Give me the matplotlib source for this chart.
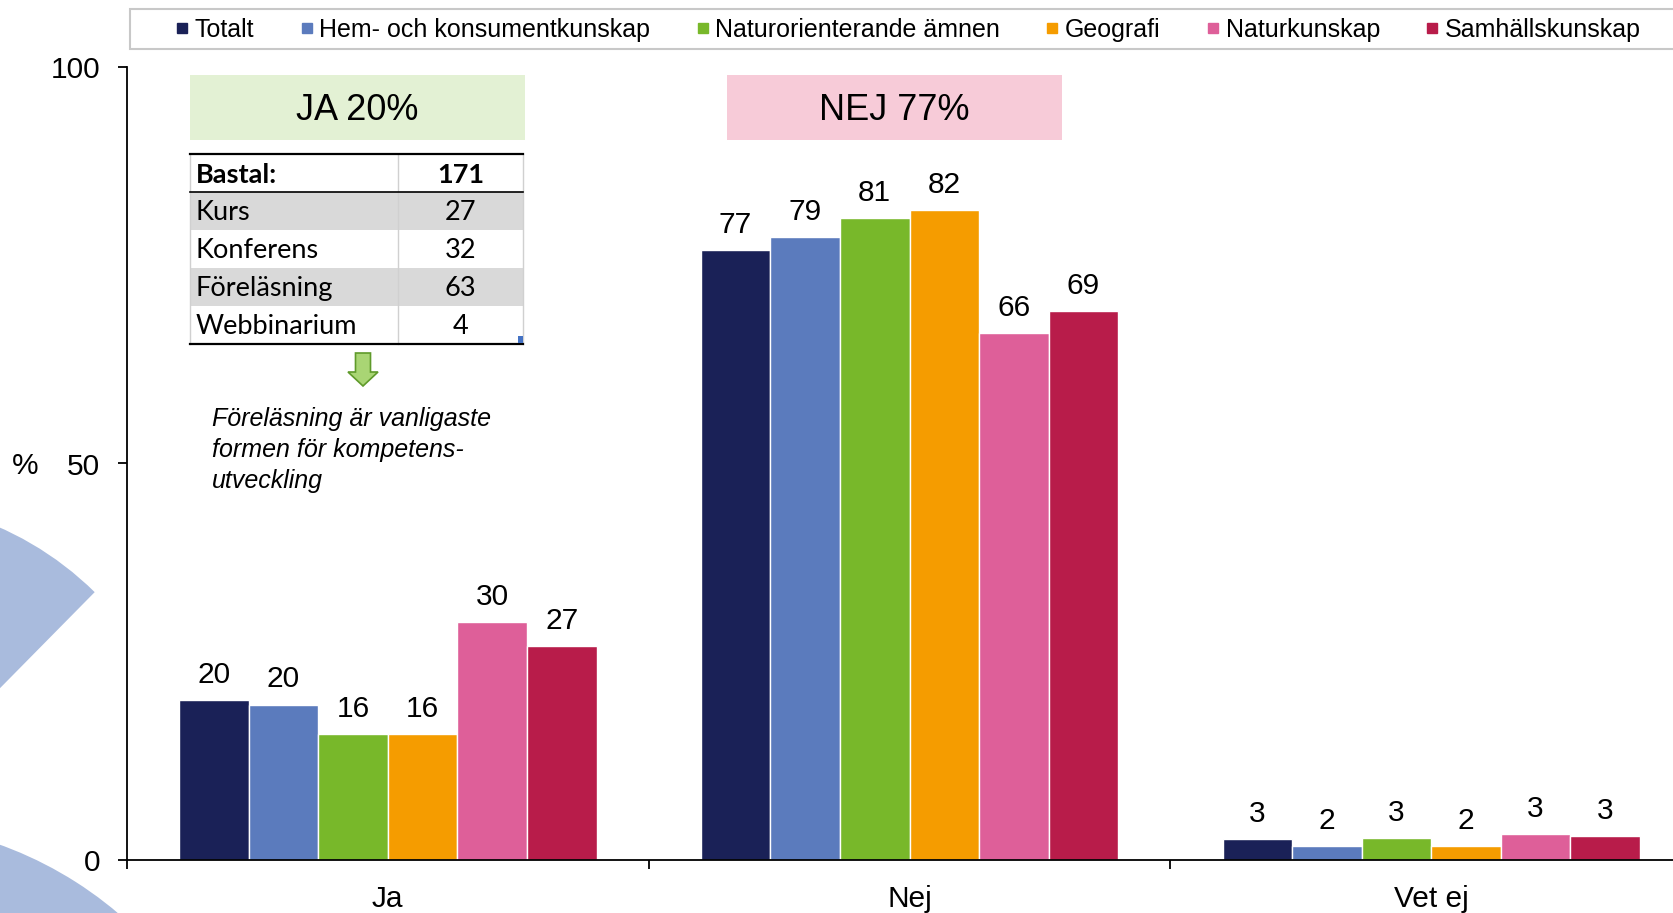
import matplotlib
matplotlib.use('Agg')
import matplotlib.pyplot as plt
from matplotlib.patches import Rectangle, Wedge, Polygon
from matplotlib.lines import Line2D
from matplotlib.transforms import IdentityTransform

plt.rcParams['font.family'] = ['Liberation Sans', 'DejaVu Sans']

# Data
categories = ['Ja', 'Nej', 'Vet ej']
series = ['Totalt', 'Hem- och konsumentkunskap', 'Naturorienterande ämnen',
          'Geografi', 'Naturkunskap', 'Samhällskunskap']
colors = ['#1a2157', '#5b7bbd', '#78b82a', '#f59c00', '#de5f99', '#b81c4a']
ja_values = [20.2, 19.6, 15.9, 15.9, 30.0, 27.0]
nej_values = [76.9, 78.6, 81.0, 82.0, 66.4, 69.2]
vetej_values = [2.6, 1.8, 2.8, 1.8, 3.3, 3.0]

ja_share = 20
nej_share = 77
bastal = 171
table_rows = ['Kurs', 'Konferens', 'Föreläsning', 'Webbinarium']
table_counts = [27, 32, 63, 4]
note = 'Föreläsning är vanligaste\nformen för kompetens-\nutveckling'

W, H = 1673, 913
fig = plt.figure(figsize=(W / 100, H / 100), dpi=100)


def fx(x):
    return x / W


def fy(y):
    return 1 - y / H


# bakgrundsformer (logo)
px = IdentityTransform()
shape_col = '#a9bbdd'
fig.add_artist(Wedge((-130, H - 820), 320, 45.4, 160, width=200,
                     facecolor=shape_col, edgecolor='none', transform=px, zorder=0))
fig.add_artist(Wedge((-130, H - 1205), 383, 15, 100, width=160,
                     facecolor=shape_col, edgecolor='none', transform=px, zorder=0))

ax = fig.add_axes([127 / W, (H - 860) / H, 1565 / W, (860 - 67) / H])
ax.set_facecolor('none')
ax.set_zorder(1)

n = len(series)
w = 0.8 / n
groups = [ja_values, nej_values, vetej_values]
for j in range(n):
    vals = [g[j] for g in groups]
    xs = [i + (j - (n - 1) / 2) * w for i in range(len(categories))]
    ax.bar(xs, vals, w, color=colors[j], edgecolor='white', linewidth=1, zorder=2)
    for x, v in zip(xs, vals):
        ax.annotate(f'{v:.0f}', (x, v), xytext=(0, 8), textcoords='offset points',
                    ha='center', va='bottom', fontsize=21.5)

ax.set_xlim(-0.5, 2.5)
ax.set_ylim(0, 100)
ax.set_yticks([0, 50, 100])
ax.tick_params(axis='y', labelsize=21.5, length=6.5, width=1.3, pad=13)
ax.set_xticks([-0.5, 0.5, 1.5, 2.5])
ax.set_xticklabels([])
ax.set_xticks(range(len(categories)), minor=True)
ax.set_xticklabels(categories, minor=True)
ax.tick_params(axis='x', which='major', length=6.5, width=1.3)
ax.tick_params(axis='x', which='minor', length=0, labelsize=21.5, pad=18)
for s in ['top', 'right']:
    ax.spines[s].set_visible(False)
for s in ['left', 'bottom']:
    ax.spines[s].set_linewidth(1.3)

fig.text(fx(25), fy(466), '%', ha='center', va='center', fontsize=21.5)

# legend
fig.add_artist(Rectangle((fx(130), fy(49)), (1700 - 130) / W, 40 / H,
                         facecolor='white', edgecolor='#c8c8c8', linewidth=1.5,
                         transform=fig.transFigure, zorder=1))
handles = [Line2D([], [], marker='s', color=c, linestyle='none', markersize=7.5)
           for c in colors]
leg = fig.legend(handles, series, loc='center left', ncol=n, frameon=False,
                 bbox_to_anchor=(fx(177), fy(30)), bbox_transform=fig.transFigure,
                 fontsize=18, handlelength=0.4, handletextpad=0.3,
                 columnspacing=1.9, borderpad=0, borderaxespad=0)
leg.set_zorder(3)

# JA / NEJ rutor
fig.add_artist(Rectangle((fx(190), fy(140)), 335 / W, 65 / H, facecolor='#e3f1d4',
                         edgecolor='none', transform=fig.transFigure, zorder=3))
fig.text(fx(357), fy(111), f'JA {ja_share}%', ha='center', va='center',
         fontsize=26, zorder=4)
fig.add_artist(Rectangle((fx(727), fy(140)), 335 / W, 65 / H, facecolor='#f7cbd8',
                         edgecolor='none', transform=fig.transFigure, zorder=3))
fig.text(fx(894), fy(111), f'NEJ {nej_share}%', ha='center', va='center',
         fontsize=26, zorder=4)

# tabell
tab_font = ['Lato', 'DejaVu Sans']
x0, xm, x1 = 190, 398, 523
top, head_bot = 154, 192
row_h = 38.1
fig.text(fx(196), fy(175), 'Bastal:', ha='left', va='center', fontsize=19.5,
         fontweight='bold', family=tab_font, zorder=5)
fig.text(fx((xm + x1) / 2), fy(175), str(bastal), ha='center', va='center',
         fontsize=19.5, fontweight='bold', family=tab_font, zorder=5)
for i, (lab, cnt) in enumerate(zip(table_rows, table_counts)):
    rt = head_bot + i * row_h
    fc = '#d9d9d9' if i % 2 == 0 else 'white'
    fig.add_artist(Rectangle((fx(x0), fy(rt + row_h)), (x1 - x0) / W, row_h / H,
                             facecolor=fc, edgecolor='none',
                             transform=fig.transFigure, zorder=3))
    fig.text(fx(196), fy(rt + row_h / 2 + 1), lab, ha='left', va='center',
             fontsize=19.5, family=tab_font, zorder=5)
    fig.text(fx((xm + x1) / 2), fy(rt + row_h / 2 + 1), str(cnt), ha='center',
             va='center', fontsize=19.5, family=tab_font, zorder=5)
bot = head_bot + len(table_rows) * row_h
for xv in [x0, xm, x1]:
    fig.add_artist(Line2D([fx(xv), fx(xv)], [fy(top), fy(bot)], color='#d0d0d0',
                          linewidth=1, transform=fig.transFigure, zorder=4))
for yv, lw in [(top, 1.6), (head_bot, 1.2), (bot, 1.6)]:
    fig.add_artist(Line2D([fx(x0), fx(x1)], [fy(yv), fy(yv)], color='black',
                          linewidth=lw, transform=fig.transFigure, zorder=4))
fig.add_artist(Rectangle((fx(518), fy(343)), 5 / W, 7 / H, facecolor='#4472c4',
                         edgecolor='none', transform=fig.transFigure, zorder=5))

# pil
cx = 363
arrow = [(cx - 7.5, 353), (cx + 7.5, 353), (cx + 7.5, 372), (cx + 15, 372),
         (cx, 386), (cx - 15, 372), (cx - 7.5, 372)]
fig.add_artist(Polygon([(fx(a), fy(b)) for a, b in arrow], closed=True,
                       facecolor='#a9d574', edgecolor='#5f9a2a', linewidth=1.2,
                       transform=fig.transFigure, zorder=5))

fig.text(fx(212), fy(450), note, ha='left', va='center', fontsize=18,
         style='italic', linespacing=1.35)

fig.savefig('out.png', dpi=100)
